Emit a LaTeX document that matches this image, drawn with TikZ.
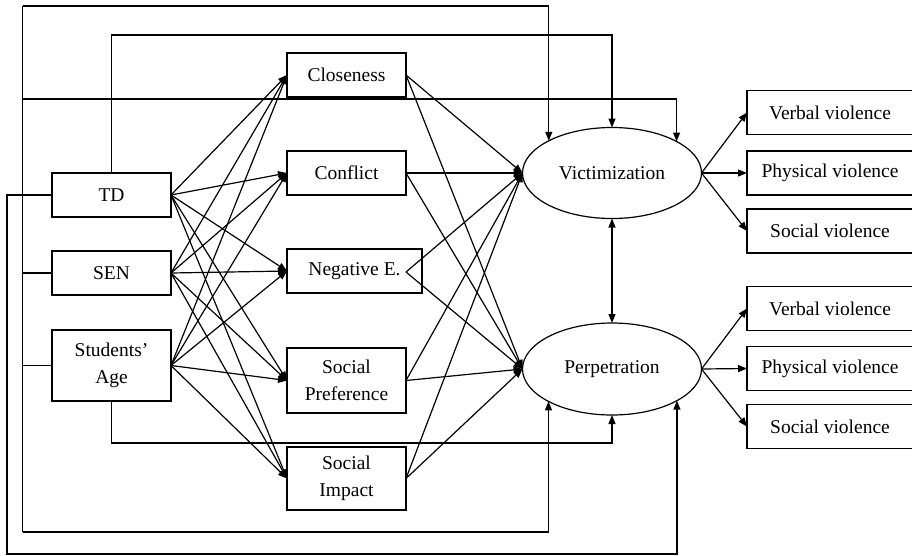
\documentclass[tikz,border=0pt]{standalone}
\usepackage{fontspec}
\setmainfont{Liberation Serif}
\usetikzlibrary{arrows.meta}
\usetikzlibrary{shapes.geometric}

\tikzset{
	box/.style={draw, rectangle, inner sep=0pt, outer sep=0pt, minimum width=119pt, minimum height=44pt, align=center},
	latent/.style={draw, ellipse, inner sep=0pt, outer sep=0pt, minimum width=179pt, minimum height=91pt},
	arr/.style={-{Triangle[length=9pt,width=7pt]}},
}

\begin{document}
\begin{tikzpicture}[x=1pt,y=-1pt,line width=1.2pt,font=\fontsize{19.5pt}{27pt}\selectfont]
	
	\useasboundingbox (0,0) rectangle (912,555);
	
	% Predictors
	\node [box] (td) at (111.5,195) {TD};
	\node [box] (sen) at (111.5,273) {SEN};
	\node [box,minimum height=71pt] (age) at (111.5,365.5) {Students’\\Age};
	
	% Mediators
	\node [box] (clo) at (346.5,75) {Closeness};
	\node [box] (con) at (346.5,173) {Conflict};
	\node [box,minimum width=135pt] (neg) at (354.5,271) {Negative E.};
	\node [box,minimum height=65pt] (spr) at (346.5,380.5) {Social\\Preference};
	\node [box,minimum height=63pt] (sim) at (346.5,478.5) {Social\\Impact};
	\coordinate (negout) at (406,272);
	
	% Outcomes
	\node [latent] (vic) at (612,173) {Victimization};
	\node [latent,minimum height=92pt] (per) at (612,369) {Perpetration};
	
	% Indicators
	\node [box,minimum width=166pt] (vv1) at (830,112.5) {Verbal violence};
	\node [box,minimum width=166pt] (pv1) at (830,173) {Physical violence};
	\node [box,minimum width=166pt] (sv1) at (830,231) {Social violence};
	\node [box,minimum width=166pt] (vv2) at (830,308.5) {Verbal violence};
	\node [box,minimum width=166pt] (pv2) at (830,368.5) {Physical violence};
	\node [box,minimum width=166pt] (sv2) at (830,426.5) {Social violence};
	
	% Arrows
	\foreach \s in {td,sen,age} {
		\foreach \t in {clo,con,neg,spr,sim} {
			\draw [arr] (\s.east) -- (\t.west);
		}
	}
	\foreach \s in {clo,con,spr,sim} {
		\draw [arr] (\s.east) -- (vic.west);
		\draw [arr] (\s.east) -- (per.west);
	}
	\draw [arr] (negout) -- (vic.west);
	\draw [arr] (negout) -- (per.west);
	
	\foreach \t in {vv1,pv1,sv1} {
		\draw [arr] (vic.east) -- (\t.west);
	}
	\foreach \t in {vv2,pv2,sv2} {
		\draw [arr] (per.east) -- (\t.west);
	}
	\draw [{Triangle[length=9pt,width=7pt]}-{Triangle[length=9pt,width=7pt]}] (vic.south) -- (per.north);
	
	% Direct paths
	\coordinate (busT) at (22.7,6);
	\coordinate (busM) at (22.7,99);
	\coordinate (busB) at (22.7,532);
	\coordinate (tdtop) at (111.5,35);
	\coordinate (tdout) at (7,554);
	\coordinate (agebot) at (111.5,443);
	
	\draw (busT) -- (busB);
	\draw (sen.west) -- (sen.west -| busT);
	\draw (age.west) -- (age.west -| busT);
	\draw [arr] (busT) -| (vic.153);
	\draw [arr] (busM) -| (vic.26);
	\draw [arr] (busB) -| (per.207);
	\draw [arr] (td.north) -- (tdtop) -| (vic.north);
	\draw [arr] (td.west) -| (tdout) -| (per.334);
	\draw [arr] (age.south) -- (agebot) -| (per.south);
	
\end{tikzpicture}
\end{document}
